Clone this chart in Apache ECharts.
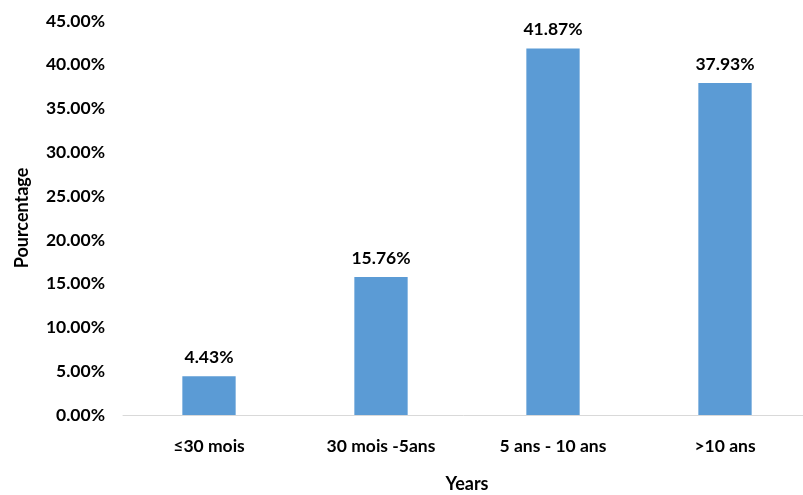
<!DOCTYPE html>
<html>
<head>
<meta charset="utf-8">
<script src="https://cdn.jsdelivr.net/npm/echarts@6/dist/echarts.min.js"></script>
<style>
html,body{margin:0;padding:0;background:#fff;}
#chart{width:803px;height:495px;}
</style>
</head>
<body>
<div id="chart"></div>
<script>
// Share of respondents by duration group
const categories = ['≤30 mois', '30 mois -5ans', '5 ans - 10 ans', '>10 ans'];
const percentages = [4.43, 15.76, 41.87, 37.93];
const yMin = 0, yMax = 45, yStep = 5;

const font = 'Lato, "Open Sans", sans-serif';
const chart = echarts.init(document.getElementById('chart'));
chart.setOption({
  animation: false,
  grid: { left: 123, top: 21, width: 688, height: 394, outerBoundsMode: 'none', containLabel: false },
  xAxis: {
    type: 'category',
    data: categories,
    name: 'Years',
    nameLocation: 'middle',
    nameGap: 60,
    nameTextStyle: { fontFamily: font, fontWeight: 'bold', fontSize: 18, color: '#000' },
    axisLine: { lineStyle: { color: '#D9D9D9', width: 1 } },
    axisTick: { show: false },
    axisLabel: { fontFamily: font, fontWeight: 'bold', fontSize: 17.5, color: '#000', margin: 22 }
  },
  yAxis: {
    type: 'value',
    min: yMin, max: yMax, interval: yStep,
    name: 'Pourcentage',
    nameLocation: 'middle',
    nameGap: 92,
    nameTextStyle: { fontFamily: font, fontWeight: 'bold', fontSize: 18, color: '#000' },
    axisLine: { show: false },
    axisTick: { show: false },
    splitLine: { show: false },
    axisLabel: { fontFamily: font, fontWeight: 'bold', fontSize: 17.5, color: '#000', margin: 18,
      formatter: v => v.toFixed(2) + '%' }
  },
  series: [{
    type: 'bar',
    data: percentages,
    barWidth: '31%',
    itemStyle: { color: '#5B9BD5' },
    label: { show: true, position: 'top', distance: 10, fontFamily: font, fontWeight: 'bold', fontSize: 17.5, color: '#000',
      formatter: p => p.value.toFixed(2) + '%' }
  }]
});
</script>
</body>
</html>
